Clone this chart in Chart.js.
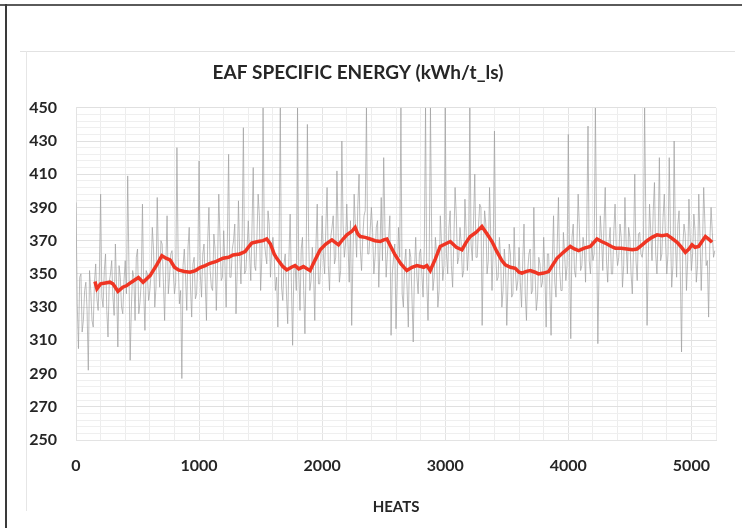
<!DOCTYPE html>
<html>
<head>
<meta charset="utf-8">
<script src="https://cdn.jsdelivr.net/npm/chart.js@4.4.1/dist/chart.umd.min.js"></script>
<style>
  html, body { margin: 0; padding: 0; background: #fff; }
  #wrap { position: relative; width: 742px; height: 528px; overflow: hidden; background: #fff; }
  #c { position: absolute; left: 0; top: 0; }
  .ln { position: absolute; }
</style>
</head>
<body>
<div id="wrap">
  <canvas id="c" width="742" height="528"></canvas>
  <div class="ln" style="left:0;top:4px;width:742px;height:2px;background:#5a5a5a;"></div>
  <div class="ln" style="left:5px;top:4px;width:2px;height:524px;background:#3a3a3a;"></div>
  <div class="ln" style="left:20px;top:51px;width:715px;height:1px;background:#e2e2e2;"></div>
  <div class="ln" style="left:26px;top:51px;width:1px;height:460px;background:#e6e6e6;"></div>
</div>
<script>
// ---- data ----
const chartTitle = "EAF SPECIFIC ENERGY (kWh/t_ls)";
const xAxisTitle = "HEATS";

// raw heats, read every 10 heats: A = heats 0,20,40,... ; B = heats 10,30,50,...
const rawStep = 20;
const rawValuesA = [
  393, 305, 350, 322, 345, 292, 340, 318, 356, 328,
  398, 330, 362, 312, 350, 336, 368, 306, 348, 326,
  358, 409, 298, 352, 322, 365, 333, 392, 316, 350,
  340, 378, 330, 396, 342, 368, 322, 385, 348, 364,
  338, 426, 332, 287, 365, 328, 378, 324, 360, 338,
  418, 336, 368, 322, 390, 342, 374, 328, 398, 346,
  376, 330, 422, 348, 370, 326, 394, 344, 438, 352,
  382, 346, 414, 352, 398, 340, 450, 362, 388, 348,
  372, 340, 318, 450, 334, 362, 320, 386, 307, 356,
  450, 328, 372, 314, 440, 340, 366, 322, 392, 344,
  385, 350, 402, 340, 378, 356, 412, 345, 430, 360,
  392, 345, 319, 398, 360, 410, 352, 385, 450, 362,
  390, 350, 378, 342, 396, 420, 348, 372, 313, 360,
  317, 378, 450, 330, 365, 318, 360, 309, 372, 338,
  365, 336, 450, 322, 450, 340, 372, 330, 385, 346,
  450, 350, 388, 342, 402, 356, 378, 348, 395, 352,
  450, 358, 410, 360, 392, 319, 388, 350, 402, 340,
  436, 346, 372, 330, 365, 319, 368, 336, 378, 340,
  366, 330, 380, 322, 362, 338, 390, 328, 360, 342,
  372, 318, 362, 313, 385, 336, 396, 340, 375, 346,
  434, 311, 380, 348, 398, 352, 372, 345, 439, 350,
  358, 450, 308, 385, 352, 402, 345, 378, 350, 392,
  355, 380, 342, 396, 350, 372, 338, 410, 346, 375,
  360, 450, 319, 392, 358, 405, 350, 420, 362, 398,
  350, 420, 342, 430, 348, 388, 303, 380, 340, 395,
  352, 386, 345, 398, 340, 402, 355, 324, 390, 360
];
const rawValuesB = [
  332, 348, 315, 340, 328, 352, 322, 345, 335, 350,
  336, 352, 328, 345, 358, 325, 342, 355, 330, 346,
  338, 355, 330, 348, 360, 326, 345, 340, 352, 334,
  350, 365, 342, 358, 370, 345, 356, 338, 362, 352,
  345, 360, 340, 355, 348, 366, 342, 356, 335, 358,
  350, 362, 345, 370, 352, 340, 365, 355, 372, 348,
  356, 370, 348, 365, 380, 352, 362, 372, 350, 366,
  362, 378, 355, 372, 385, 360, 370, 356, 380, 365,
  362, 348, 365, 342, 356, 338, 360, 345, 352, 340,
  350, 365, 340, 358, 372, 346, 352, 368, 344, 360,
  362, 378, 355, 372, 385, 360, 375, 352, 380, 368,
  368, 382, 360, 378, 392, 365, 372, 388, 362, 376,
  375, 360, 382, 366, 358, 378, 362, 385, 350, 368,
  345, 360, 338, 356, 342, 365, 335, 352, 348, 362,
  350, 366, 345, 360, 372, 348, 362, 340, 368, 355,
  362, 378, 355, 370, 385, 360, 368, 352, 375, 365,
  368, 382, 360, 378, 390, 365, 380, 358, 372, 366,
  362, 348, 360, 340, 355, 345, 362, 338, 352, 346,
  345, 358, 338, 352, 365, 340, 350, 336, 356, 345,
  350, 362, 340, 358, 345, 368, 352, 340, 362, 355,
  360, 372, 352, 368, 378, 355, 366, 380, 358, 370,
  362, 375, 355, 372, 380, 358, 368, 350, 376, 365,
  360, 372, 355, 368, 378, 350, 366, 358, 374, 362,
  366, 380, 360, 375, 388, 362, 372, 358, 384, 370,
  362, 376, 355, 370, 380, 352, 366, 374, 358, 372,
  362, 376, 355, 372, 366, 380, 358, 370, 375, 364
];

// moving average (red)
const maHeats = [154,170,200,276,300,341,380,413,450,507,545,602,656,698,730,764,800,832,880,927,970,1008,1050,1089,1140,1195,1240,1276,1330,1374,1400,1428,1480,1520,1550,1580,1610,1631,1680,1713,1750,1780,1810,1848,1880,1902,1940,1984,2030,2079,2133,2170,2201,2240,2268,2290,2309,2350,2390,2430,2472,2500,2526,2560,2593,2640,2688,2730,2770,2800,2824,2850,2878,2920,2959,3000,3041,3090,3136,3170,3203,3250,3298,3340,3380,3420,3460,3488,3530,3569,3600,3623,3660,3691,3730,3758,3800,3840,3870,3908,3960,4016,4050,4084,4130,4179,4233,4270,4314,4350,4382,4430,4477,4520,4558,4600,4640,4680,4721,4760,4802,4840,4884,4920,4951,4980,5005,5030,5059,5090,5114,5140,5168];
const maValues = [345.4,341,344,345,344,339.5,342,343,345,347.8,345,349,355.4,361,359.5,358.4,354,352.4,351.5,351,352,353.8,355,356.4,357.5,359.4,360,361.4,362,363.4,366,368.5,369.5,370,371,368,362,359.4,354.5,352.4,354,355,353,354.4,353,352,358,364.5,368,370.5,367.5,371,373.5,375.5,378,374,372.5,372,371,370,369.5,370.5,371,366,361.4,356,352,354,355,354.5,354,355,352,359,366.5,368,369.5,366,364.5,369,372.5,375,378.5,374,369.5,363.4,358,355.4,354,353.4,351,350.4,351.5,352,351,350,350.5,351.4,355,359.4,363,366.5,365,364,365.5,366.5,371,369.5,368,366.5,365.5,365.5,365,364.5,365,367.5,370,372,373.5,373,373.5,371.5,369,366,363,365,367.5,366,366.5,370,372.5,371,369];

const xMin = 0, xMax = 5200, xStep = 200, xLabelEvery = 1000;
const yMin = 250, yMax = 450, yStep = 4, yLabelEvery = 20;

// ---- build ----
const rawData = [];
rawValuesA.forEach((v, i) => {
  rawData.push({ x: i * rawStep, y: v });
  rawData.push({ x: i * rawStep + rawStep / 2, y: rawValuesB[i] });
});
const maData = maHeats.map((h, i) => ({ x: h, y: maValues[i] }));

const tickFont = { family: 'Lato', weight: 'bold', size: 16 };

new Chart(document.getElementById('c'), {
  type: 'line',
  data: {
    datasets: [
      { data: maData, borderColor: '#ef3523', borderWidth: 3.5, pointRadius: 0, tension: 0, fill: false },
      { data: rawData, borderColor: 'rgba(160,160,160,0.7)', borderWidth: 1, pointRadius: 0, tension: 0, fill: false }
    ]
  },
  options: {
    responsive: false,
    animation: false,
    events: [],
    layout: { padding: { left: 0, right: 26, top: 52, bottom: 0 } },
    plugins: {
      legend: { display: false },
      tooltip: { enabled: false },
      title: {
        display: true,
        text: chartTitle,
        color: '#262626',
        font: { family: 'Lato', weight: 'bold', size: 19 },
        padding: { top: 9, bottom: 24 }
      }
    },
    scales: {
      x: {
        type: 'linear',
        min: xMin, max: xMax,
        afterBuildTicks: (s) => { s.ticks = []; for (let v = xMin; v <= xMax; v += xStep) s.ticks.push({ value: v }); },
        afterFit: (s) => { s.height = 88; },
        ticks: {
          autoSkip: false, maxRotation: 0, padding: 16,
          color: '#262626', font: tickFont,
          callback: (v) => (v % xLabelEvery === 0 ? String(v) : '')
        },
        grid: {
          drawTicks: false,
          color: (ctx) => (ctx.tick && ctx.tick.value % xLabelEvery === 0 ? '#e3e3e3' : '#ededed'),
          lineWidth: 1
        },
        border: { color: '#e3e3e3' },
        title: {
          display: true, text: xAxisTitle, color: '#262626',
          font: { family: 'Lato', weight: 'bold', size: 15 },
          padding: { top: 0, bottom: 12 }
        }
      },
      y: {
        type: 'linear',
        min: yMin, max: yMax,
        afterBuildTicks: (s) => { s.ticks = []; for (let v = yMin; v <= yMax; v += yStep) s.ticks.push({ value: v }); },
        afterFit: (s) => { s.width = 76; },
        ticks: {
          autoSkip: false, padding: 19,
          color: '#262626', font: tickFont,
          callback: (v) => ((v - yMin) % yLabelEvery === 0 ? String(v) : '')
        },
        grid: {
          drawTicks: false,
          color: (ctx) => (ctx.tick && (ctx.tick.value - yMin) % yLabelEvery === 0 ? '#e0e0e0' : '#efefef'),
          lineWidth: 1
        },
        border: { color: '#e3e3e3' }
      }
    }
  }
});
</script>
</body>
</html>
